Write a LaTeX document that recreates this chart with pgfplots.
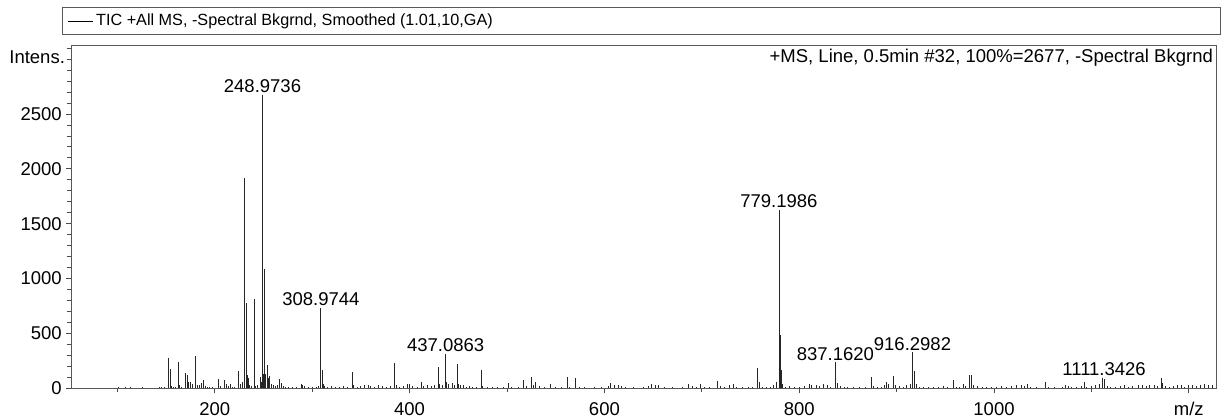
\documentclass[border=0pt]{standalone}
\usepackage{fontspec}
\setmainfont{Liberation Sans}
\usepackage{pgfplots}
\pgfplotsset{compat=1.18}

\begin{document}
\fontsize{18.5}{22}\selectfont
\begin{tikzpicture}[x=1pt,y=1pt]
\useasboundingbox (0,0) rectangle (1223,420);
% header box
\draw[black!65, line width=1pt] (62,385) rectangle (1220,412);
\draw[black, line width=0.8pt] (68,398.5) -- (93,398.5);
\node[anchor=west, inner sep=0pt, font=\fontsize{16.2}{19}\selectfont] at (96,398.5) {TIC +All MS, -Spectral Bkgrnd, Smoothed (1.01,10,GA)};

\begin{axis}[
    at={(73,29)}, anchor=south west,
    scale only axis,
    width=1145pt, height=343pt,
    xmin=52.5, xmax=1228,
    ymin=0, ymax=3127,
    clip mode=individual,
    axis line style={black!65, line width=1pt},
    tick style={black!70, line width=0.8pt},
    tick align=outside,
    xtick pos=left, ytick pos=left,
    major tick length=5pt, minor tick length=4pt,
    xtick={200,400,...,1200},
    xticklabels={200,400,600,800,1000,m/z},
    minor xtick={100,300,...,1100},
    ytick={0,500,...,2500},
    minor ytick={100,200,...,3100},
    ticklabel style={font=\fontsize{18.5}{22}\selectfont},
    xticklabel style={yshift=-3pt},
    yticklabel style={xshift=2pt},
    /pgf/number format/assume math mode=true,
    /pgf/number format/1000 sep={},
    scaled ticks=false,
]
\addplot[ycomb, black!85, line width=0.9pt, mark=none] coordinates {
(100.7,10) (108.6,8) (113.8,9) (126,12) (143,15) (145,14) (148,15)
(152.8,271) (154,171) (155.5,20) (158,15) (160,10) (162.6,240) (164,25) (166,15)
(169.8,134) (171.6,119) (173,60) (175,55) (177,40) (180.5,295) (182,30) (184,25)
(186,45) (188.3,76) (190,20) (192,15) (195,12) (198,10) (204,82) (206,20) (210,75)
(212,40) (214,20) (216,35) (218,15) (220,10) (224.6,158) (226,40) (228,60)
(230.4,1912) (232.5,781) (233.5,120) (234.5,97) (236,30) (238,20) (240.7,817)
(242,20) (244,30) (246.5,100) (247.5,60) (248.97,2677) (250.0,130) (250.6,1090)
(252.3,130) (254,207) (255,90) (256.5,110) (258,40) (260,25) (262,20) (264,30)
(266.7,85) (268,45) (270,20) (273,15) (276,12) (280,10) (284,15) (288.9,40)
(290,30) (292,20) (296,10) (300,8) (304,15) (306,20) (308.4,735) (310.2,167)
(311.5,40) (313,20) (316,15) (320,20) (324,15) (328,12) (332,20) (336,15)
(341,152) (342,30) (346,15) (350,20) (354,25) (358,30) (360,20) (364,15) (368,25)
(372,20) (376,15) (380,20) (384.8,231) (386,30) (390,15) (394,20) (398,35)
(400,40) (403,20) (408,15) (412,60) (414,20) (418,25) (422,20) (426,30)
(429.2,190) (431,40) (434,30) (436.7,311) (438,60) (440,40) (443.6,45) (446,25)
(448.8,220) (450,40) (452,30) (455,25) (458,15) (461,20) (465,15) (469,10)
(473.4,167) (475,20) (480,15) (485,10) (490,12) (496,10) (501,46) (505,10)
(512,8) (517.2,76) (520,20) (525,100) (527,30) (529,60) (533,20) (538,15)
(544.9,40) (550,15) (556,10) (561.7,100) (564,15) (570.2,90) (574,10) (580,8)
(590,10) (597,12) (604,20) (606,45) (610,25) (614,30) (618,20) (622,10) (630,8)
(640,12) (645,20) (648,40) (652,25) (656,30) (662,10) (670,8) (680,10) (686,40)
(690,20) (694,15) (699,35) (703,15) (708,10) (716,70) (719,20) (723,15) (728,25)
(732.8,35) (736,15) (742,10) (748,12) (752,8) (757.1,180) (759.5,60) (762,15)
(766,10) (770,15) (774,30) (777,60) (779.2,1625) (780.3,483) (781.3,164)
(783,40) (786,15) (790,20) (795,12) (800,15) (805,20) (810,40) (813,25) (818,30)
(821,20) (825,35) (829,30) (832,15) (837.2,235) (839.6,45) (842,20) (846,15)
(850,10) (856,8) (862,10) (868,12) (873.8,100) (876,20) (880,15) (884,10)
(887,30) (889.9,55) (892,40) (896.7,113) (899,30) (903,20) (907,15) (910,25)
(914,40) (916.3,326) (918,160) (920,40) (923,15) (928,10) (933,15) (938,12)
(943,15) (948,20) (952,15) (958.3,77) (961,15) (965,10) (968.5,40) (971,20)
(974.4,122) (977,122) (979,30) (983,20) (988,15) (992,10) (997,15) (1003,12)
(1008,20) (1013,15) (1018,20) (1023,25) (1028,30) (1031,20) (1034.8,40)
(1037,15) (1044,8) (1052.6,55) (1056,10) (1062,8) (1070,10) (1073,30) (1076,20)
(1080,10) (1085,15) (1090,20) (1092.4,60) (1095,15) (1100,20) (1104,30)
(1108,40) (1111.3,90) (1113.5,88) (1116,20) (1120,15) (1125,10) (1130,20)
(1134,30) (1138,15) (1142,20) (1148,25) (1152,30) (1156,20) (1160,25) (1165,30)
(1168,20) (1171.6,90) (1173,50) (1176,20) (1180,15) (1184,20) (1188,30)
(1192,25) (1196,15) (1200,30) (1204,25) (1208,20) (1212,30) (1216,35)
(1220,30) (1224,25)
};
% peak labels
\node[anchor=south, inner sep=2pt] at (axis cs:248.97,2677) {248.9736};
\node[anchor=south, inner sep=2pt] at (axis cs:308.97,735) {308.9744};
\node[anchor=south, inner sep=2pt] at (axis cs:437.09,311) {437.0863};
\node[anchor=south, inner sep=2pt] at (axis cs:779.2,1625) {779.1986};
\node[anchor=south, inner sep=2pt] at (axis cs:837.16,235) {837.1620};
\node[anchor=south, inner sep=2pt] at (axis cs:916.3,326) {916.2982};
\node[anchor=south, inner sep=2pt] at (axis cs:1113,90) {1111.3426};
% annotations
\node[anchor=north east, inner sep=0pt, xshift=-3pt, yshift=-4pt] at (rel axis cs:1,1) {+MS, Line, 0.5min \#32, 100\%=2677, -Spectral Bkgrnd};
\node[anchor=north east, inner sep=0pt, xshift=-6pt, yshift=-5pt] at (rel axis cs:0,1) {Intens.};
\end{axis}
\end{tikzpicture}
\end{document}
